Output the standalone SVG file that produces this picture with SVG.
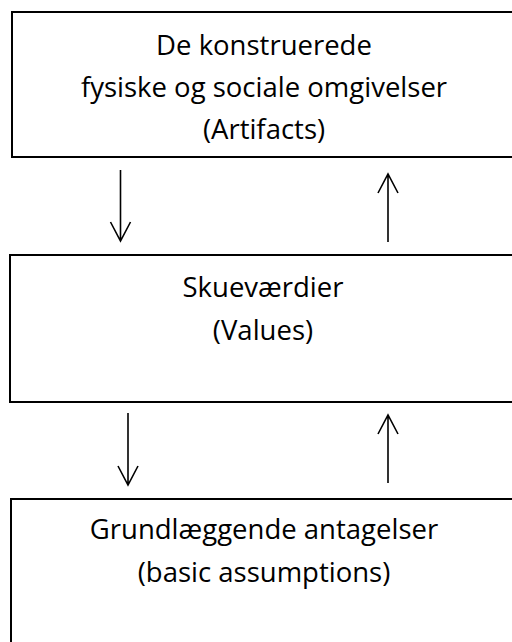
<svg xmlns="http://www.w3.org/2000/svg" width="512" height="642" viewBox="0 0 512 642">
  <style>
    .box { fill: #ffffff; stroke: #000000; stroke-width: 2; }
    .label { font-family: "Open Sans", Lato, sans-serif; font-size: 27.5px; fill: #000000; text-anchor: middle; }
    .arrow { fill: none; stroke: #000000; stroke-width: 1.6; }
  </style>
  <rect width="512" height="642" fill="#ffffff"/>

  <g id="artifacts">
    <rect class="box" x="12" y="12" width="520" height="145"/>
    <text class="label" x="264" y="55">De konstruerede</text>
    <text class="label" x="264" y="97">fysiske og sociale omgivelser</text>
    <text class="label" x="264" y="139">(Artifacts)</text>
  </g>

  <g id="values">
    <rect class="box" x="10" y="255" width="520" height="147"/>
    <text class="label" x="263" y="297">Skueværdier</text>
    <text class="label" x="263" y="340">(Values)</text>
  </g>

  <g id="assumptions">
    <rect class="box" x="11" y="499" width="520" height="160"/>
    <text class="label" x="264" y="539">Grundlæggende antagelser</text>
    <text class="label" x="264" y="582">(basic assumptions)</text>
  </g>

  <g id="connectors">
    <!-- artifacts to values -->
    <path class="arrow" d="M120.5 170 V241 M110.5 222 L120.5 241 L130.5 222"/>
    <!-- values to artifacts -->
    <path class="arrow" d="M388 242 V174 M378 193 L388 174 L398 193"/>
    <!-- values to assumptions -->
    <path class="arrow" d="M128 413 V485 M118 466 L128 485 L138 466"/>
    <!-- assumptions to values -->
    <path class="arrow" d="M388 483 V415 M378 434 L388 415 L398 434"/>
  </g>
</svg>
